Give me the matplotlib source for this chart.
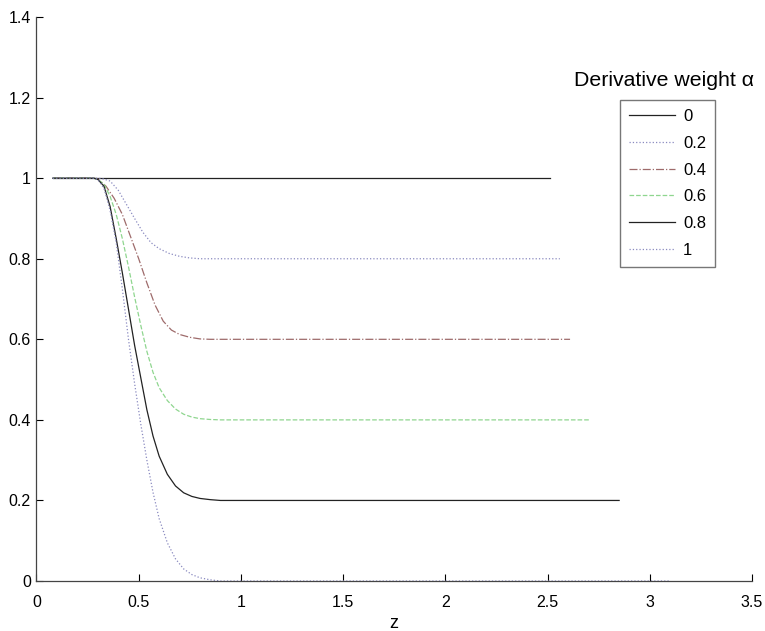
import matplotlib
matplotlib.use('Agg')
import matplotlib.pyplot as plt

plt.rcParams['font.family'] = ['Liberation Sans', 'DejaVu Sans']

# derivative weights
alphas = ['0', '0.2', '0.4', '0.6', '0.8', '1']

# curves (z, value)
z_a0 = [0.08, 2.51]
y_a0 = [1.0, 1.0]

z_a02 = [0.08, 0.29, 0.32, 0.36, 0.40, 0.44, 0.48, 0.52, 0.56, 0.60, 0.65, 0.70, 0.75, 0.80, 0.85, 2.56]
y_a02 = [1.0, 1.0, 0.999, 0.993, 0.97, 0.935, 0.90, 0.866, 0.840, 0.825, 0.813, 0.806, 0.802, 0.800, 0.80, 0.80]

z_a04 = [0.08, 0.28, 0.30, 0.34, 0.38, 0.42, 0.46, 0.50, 0.54, 0.58, 0.62, 0.66, 0.70, 0.75, 0.80, 0.85, 2.61]
y_a04 = [1.0, 1.0, 0.998, 0.98, 0.95, 0.91, 0.855, 0.80, 0.74, 0.685, 0.645, 0.623, 0.612, 0.605, 0.601, 0.60, 0.60]

z_a06 = [0.08, 0.28, 0.30, 0.33, 0.36, 0.39, 0.42, 0.45, 0.48, 0.51, 0.54, 0.57, 0.60, 0.64, 0.68, 0.72,
         0.76, 0.80, 0.85, 0.90, 2.71]
y_a06 = [1.0, 1.0, 0.997, 0.985, 0.955, 0.91, 0.85, 0.78, 0.705, 0.635, 0.57, 0.518, 0.48, 0.448, 0.427, 0.414,
         0.407, 0.403, 0.401, 0.40, 0.40]

z_a08 = [0.08, 0.28, 0.30, 0.33, 0.36, 0.39, 0.42, 0.45, 0.48, 0.51, 0.54, 0.57, 0.60, 0.64, 0.68, 0.72,
         0.76, 0.80, 0.85, 0.90, 2.85]
y_a08 = [1.0, 1.0, 0.997, 0.98, 0.93, 0.85, 0.765, 0.675, 0.585, 0.505, 0.425, 0.36, 0.31, 0.265, 0.236, 0.219,
         0.210, 0.205, 0.202, 0.20, 0.20]

z_a1 = [0.08, 0.28, 0.30, 0.33, 0.36, 0.39, 0.42, 0.45, 0.48, 0.51, 0.54, 0.57, 0.60, 0.64, 0.68, 0.72,
        0.76, 0.80, 0.85, 0.90, 3.10]
y_a1 = [1.0, 1.0, 0.997, 0.975, 0.92, 0.84, 0.725, 0.60, 0.49, 0.39, 0.30, 0.22, 0.155, 0.095, 0.055, 0.03,
        0.016, 0.008, 0.003, 0.0, 0.0]

fig = plt.figure(figsize=(7.65, 6.31), dpi=100)
ax = fig.add_axes([0.0477, 0.0792, 0.9353, 0.8938])

ax.plot(z_a0, y_a0, color='#222222', linestyle='-', linewidth=0.9, label=alphas[0])
ax.plot(z_a02, y_a02, color='#8a8ac0', linestyle=':', linewidth=0.9, label=alphas[1])
ax.plot(z_a04, y_a04, color='#9e6b6b', linestyle='-.', linewidth=0.9, label=alphas[2])
ax.plot(z_a06, y_a06, color='#8fd68f', linestyle='--', linewidth=0.9, label=alphas[3])
ax.plot(z_a08, y_a08, color='#222222', linestyle='-', linewidth=0.9, label=alphas[4])
ax.plot(z_a1, y_a1, color='#8a8ac0', linestyle=':', linewidth=0.9, label=alphas[5])

ax.set_xlim(0, 3.5)
ax.set_ylim(0, 1.4)
ax.set_xticks([0, 0.5, 1, 1.5, 2, 2.5, 3, 3.5])
ax.set_xticklabels(['0', '0.5', '1', '1.5', '2', '2.5', '3', '3.5'])
ax.set_yticks([0, 0.2, 0.4, 0.6, 0.8, 1, 1.2, 1.4])
ax.set_yticklabels(['0', '0.2', '0.4', '0.6', '0.8', '1', '1.2', '1.4'])
ax.tick_params(direction='in', length=5, width=0.8, labelsize=11.5)
ax.tick_params(axis='x', pad=10)
ax.tick_params(axis='y', pad=4)
ax.spines['top'].set_visible(False)
ax.spines['right'].set_visible(False)
for s in ['left', 'bottom']:
    ax.spines[s].set_color('#444444')
    ax.spines[s].set_linewidth(0.9)

ax.set_xlabel('z', fontsize=13, labelpad=4)

leg = ax.legend(loc='upper left', bbox_to_anchor=(0.810, 0.8415), bbox_transform=fig.transFigure,
                fontsize=12, handlelength=2.8, labelspacing=0.7, fancybox=False,
                borderpad=0.55, handletextpad=0.45, borderaxespad=0)
leg.get_frame().set_edgecolor('#555555')
leg.get_frame().set_linewidth(1.0)

fig.text(0.8686, 0.873, 'Derivative weight α', fontsize=15.3, ha='center', va='center')

plt.savefig('out.png', dpi=100)
